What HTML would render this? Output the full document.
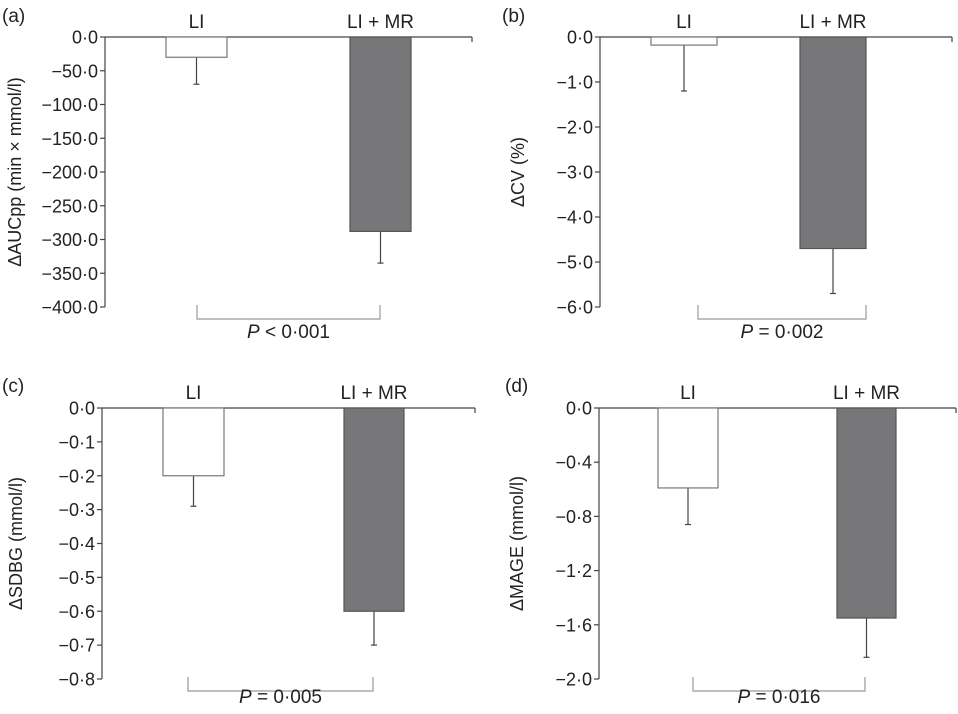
<!DOCTYPE html>
<html><head><meta charset="utf-8"><style>
body{margin:0;background:#fff}
svg{font-family:"Liberation Sans",sans-serif}
</style></head><body>
<svg id="s" width="958" height="709" viewBox="0 0 958 709"></svg>
<script>
const categories=["LI","LI + MR"];
const aMeans=[-30,-288], aErr=[-70,-335];
const bMeans=[-0.18,-4.7], bErr=[-1.2,-5.7];
const cMeans=[-0.2,-0.6], cErr=[-0.29,-0.7];
const dMeans=[-0.59,-1.55], dErr=[-0.86,-1.84];
const aTicks=[0,-50,-100,-150,-200,-250,-300,-350,-400];
const bTicks=[0,-1,-2,-3,-4,-5,-6];
const cTicks=[0,-0.1,-0.2,-0.3,-0.4,-0.5,-0.6,-0.7,-0.8];
const dTicks=[0,-0.4,-0.8,-1.2,-1.6,-2.0];
const panels=[
 {id:"a",letter:"(a)",means:aMeans,err:aErr,ticks:aTicks,ylab:"ΔAUCpp (min × mmol/l)",p:"< 0·001",
  ax:105,right:472,top:37,bot:307,bars:[[166,227],[350,411]],br:[197,380],lx:2,ly:22,po:33,yo:84},
 {id:"b",letter:"(b)",means:bMeans,err:bErr,ticks:bTicks,ylab:"ΔCV (%)",p:"= 0·002",
  ax:600,right:952,top:37,bot:307,bars:[[651,717],[800,866]],br:[698,866],lx:502,ly:22,po:33,yo:76},
 {id:"c",letter:"(c)",means:cMeans,err:cErr,ticks:cTicks,ylab:"ΔSDBG (mmol/l)",p:"= 0·005",
  ax:102,right:475,top:408,bot:679,bars:[[163,224],[344,404]],br:[188,373],lx:2,ly:392,po:26,yo:80},
 {id:"d",letter:"(d)",means:dMeans,err:dErr,ticks:dTicks,ylab:"ΔMAGE (mmol/l)",p:"= 0·016",
  ax:599,right:956,top:408,bot:679,bars:[[658,718],[837,896]],br:[693,865],lx:505,ly:392,po:26,yo:76}
];
const NS="http://www.w3.org/2000/svg";
const svg=document.getElementById("s");
function mk(tag,attrs,parent,text){const e=document.createElementNS(NS,tag);for(const k in attrs)e.setAttribute(k,attrs[k]);if(text!=null)e.textContent=text;parent.appendChild(e);return e;}
function fmt(v){let s=Math.abs(v).toFixed(1).replace(".","·");return (v<0?"−":"")+s;}
panels.forEach(P=>{
 const g=mk("g",{},svg);
 
 
 const mn=P.ticks[P.ticks.length-1];
 const y=v=>P.top+(v/mn)*(P.bot-P.top);
 const t=mk("text",{x:P.lx,y:P.ly,"font-size":19,fill:"#222"},g,P.letter);
 
 
 const ya=mk("line",{x1:P.ax,y1:P.top,x2:P.ax,y2:P.bot,stroke:"#444","stroke-width":1.2},g);
 
 
 const xa=mk("line",{x1:P.ax,y1:P.top,x2:P.right,y2:P.top,stroke:"#444","stroke-width":1.2},g);
 
 
 mk("line",{x1:P.right,y1:P.top,x2:P.right,y2:P.top+5,stroke:"#444","stroke-width":1.2},g);
 P.ticks.forEach(v=>{
  const yy=y(v);
  mk("line",{x1:P.ax-5,y1:yy,x2:P.ax,y2:yy,stroke:"#444","stroke-width":1.2},g);
  const tl=mk("text",{x:P.ax-7,y:yy+6.5,"font-size":18,"text-anchor":"end",fill:"#222"},g,fmt(v));
  
  
 });
 const cy=(P.top+P.bot)/2;
 const yl=mk("text",{x:0,y:0,"font-size":18,"text-anchor":"middle",fill:"#222",transform:`translate(${P.ax-P.yo},${cy}) rotate(-90)`},g,P.ylab);
 
 
 P.means.forEach((m,i)=>{
  const [x0,x1]=P.bars[i];const xc=(x0+x1)/2;
  const e=mk("line",{x1:xc,y1:y(m),x2:xc,y2:y(P.err[i]),stroke:"#444","stroke-width":1.2},g);
  
  
  mk("line",{x1:xc-3,y1:y(P.err[i]),x2:xc+3,y2:y(P.err[i]),stroke:"#444","stroke-width":1.2},g);
  const r=mk("rect",{x:x0,y:P.top,width:x1-x0,height:y(m)-P.top,fill:i?"#77777a":"#fff",stroke:i?"#555":"#777","stroke-width":1.2},g);
  
  
  const c=mk("text",{x:xc,y:P.top-9,"font-size":19,"text-anchor":"middle",fill:"#222"},g,categories[i]);
  
  
 });
 const by=P.bot-2;
 const b=mk("path",{d:`M${P.br[0]},${by} V${by+14} H${P.br[1]} V${by}`,fill:"none",stroke:"#999","stroke-width":1.2},g);
 
 
 const pt=mk("text",{x:(P.br[0]+P.br[1])/2,y:by+P.po,"font-size":19,"text-anchor":"middle",fill:"#222"},g);
 
 
 mk("tspan",{"font-style":"italic"},pt,"P");
 mk("tspan",{},pt," "+P.p);
});
</script>
</body></html>
